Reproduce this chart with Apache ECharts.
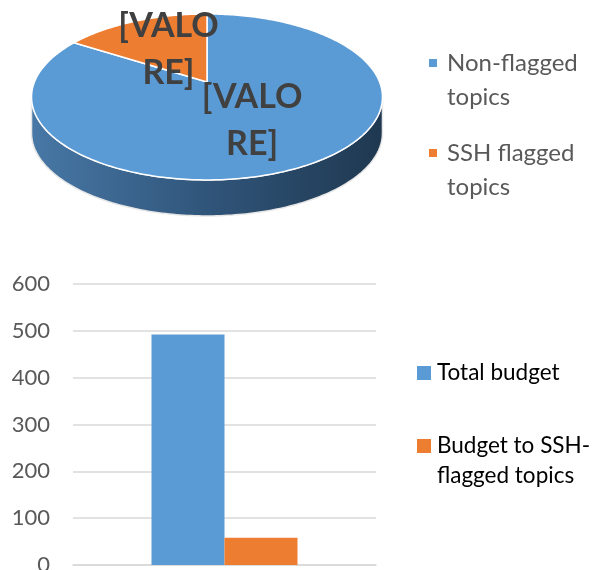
<!DOCTYPE html>
<html>
<head>
<meta charset="utf-8">
<script src="https://cdn.jsdelivr.net/npm/echarts@6/dist/echarts.min.js"></script>
<style>
  html, body { margin: 0; padding: 0; background: #fff; }
  #chart { width: 594px; height: 570px; }
</style>
</head>
<body>
<div id="chart"></div>
<script>
// dati torta
var pieNames = ['Non-flagged\ntopics', 'SSH flagged\ntopics'];
var pieValues = [84, 16];
var pieLabels = ['[VALO\nRE]', '[VALO\nRE]'];
var pieColors = ['#5b9bd5', '#ed7d31'];

// dati barre
var barNames = ['Total budget', 'Budget to SSH-\nflagged topics'];
var barValues = [492, 58];
var barColors = ['#5b9bd5', '#ed7d31'];
var yMin = 0, yMax = 600, yStep = 100;

var fontName = 'Lato, "Open Sans", sans-serif';

// geometria torta 3d (prospettiva semplice)
var cx = 207, cy = 82, ra = 172.6, rb = 80.3, persp = 0.18, depth = 36;
var sideL = Math.acos(-persp) * 180 / Math.PI;   // ~100 gradi
var sideR = 360 - sideL;

function project(r, deg) {
    var t = deg * Math.PI / 180;
    var d = 1 + persp * r * Math.cos(t);
    return [cx + ra * r * Math.sin(t) / d, cy - rb * r * Math.cos(t) / d];
}

function pieTotal() {
    var s = 0;
    for (var i = 0; i < pieValues.length; i++) s += pieValues[i];
    return s;
}

function sliceStart(idx) {
    var s = 0;
    for (var i = 0; i < idx; i++) s += pieValues[i];
    return s / pieTotal() * 360;
}

function arc(r, a0, a1, dy) {
    var pts = [];
    for (var a = a0; a < a1; a += 1) {
        var p = project(r, a);
        pts.push([p[0], p[1] + dy]);
    }
    var q = project(r, a1);
    pts.push([q[0], q[1] + dy]);
    return pts;
}

function renderSlice(idx) {
    return function (params, api) {
        var start = sliceStart(idx);
        var end = start + api.value(0) / pieTotal() * 360;
        var children = [];
        // parete laterale
        var w0 = Math.max(start, sideL), w1 = Math.min(end, sideR);
        if (w1 > w0) {
            var topEdge = arc(1, w0, w1, 0);
            var botEdge = arc(1, w0, w1, depth).reverse();
            children.push({
                type: 'polygon',
                shape: { points: topEdge.concat(botEdge) },
                style: {
                    fill: new echarts.graphic.LinearGradient(0, 0, 1, 0, [
                        { offset: 0, color: '#4878a6' },
                        { offset: 0.5, color: '#30557a' },
                        { offset: 1, color: '#1f3850' }
                    ]),
                    stroke: '#e6e6e6',
                    lineWidth: 1.5
                }
            });
        }
        // faccia superiore
        var face = [[cx, cy]].concat(arc(1, start, end, 0));
        children.push({
            type: 'polygon',
            shape: { points: face },
            style: { fill: pieColors[idx], stroke: '#ffffff', lineWidth: 1.5 }
        });
        var mid = (start + end) / 2;
        var lp = project(0.5, mid);
        children.push({
            type: 'text',
            x: lp[0],
            y: lp[1],
            z2: 100,
            style: {
                text: pieLabels[idx],
                fill: '#404040',
                fontSize: 34,
                fontWeight: 'bold',
                fontFamily: fontName,
                lineHeight: 47,
                align: 'center',
                verticalAlign: 'middle'
            }
        });
        return { type: 'group', children: children };
    };
}

var series = [];
for (var i = 0; i < pieValues.length; i++) {
    series.push({
        type: 'custom',
        name: pieNames[i],
        coordinateSystem: 'none',
        itemStyle: { color: pieColors[i] },
        renderItem: renderSlice(i),
        data: [[pieValues[i]]],
        silent: true
    });
}
for (var j = 0; j < barValues.length; j++) {
    series.push({
        type: 'bar',
        name: barNames[j],
        data: [barValues[j]],
        barWidth: 73,
        barGap: '0%',
        itemStyle: { color: barColors[j] }
    });
}

// riga vuota in testa: l'icona resta allineata alla prima riga
function firstLine(name) {
    return name.indexOf('\n') >= 0 ? '\n' + name : name;
}

var pieLegendTop = [12, 102];
var barLegendTop = [358, 401];
var legends = [];
for (var a = 0; a < pieNames.length; a++) {
    legends.push({
        data: [pieNames[a]],
        left: 429, top: pieLegendTop[a], padding: 0,
        icon: 'rect', itemWidth: 8, itemHeight: 8,
        selectedMode: false,
        formatter: firstLine,
        textStyle: { fontSize: 24, color: '#595959', fontFamily: fontName, lineHeight: 34, padding: [0, 0, 0, 5] }
    });
}
for (var b = 0; b < barNames.length; b++) {
    legends.push({
        data: [barNames[b]],
        left: 417, top: barLegendTop[b], padding: 0,
        icon: 'rect', itemWidth: 14, itemHeight: 14,
        selectedMode: false,
        formatter: firstLine,
        textStyle: { fontSize: 22.5, color: '#000000', fontFamily: fontName, lineHeight: 30, padding: [0, 0, 0, 1] }
    });
}

var chart = echarts.init(document.getElementById('chart'));
chart.setOption({
    animation: false,
    legend: legends,
    grid: { left: 73, right: 218, top: 284, bottom: 5, outerBoundsMode: 'none', containLabel: false },
    xAxis: {
        type: 'category',
        data: [''],
        axisLine: { lineStyle: { color: '#d9d9d9', width: 1.5 } },
        axisTick: { show: false },
        axisLabel: { show: false }
    },
    yAxis: {
        type: 'value',
        min: yMin, max: yMax, interval: yStep,
        axisLine: { show: false },
        axisTick: { show: false },
        axisLabel: { fontSize: 22, color: '#595959', fontFamily: fontName, margin: 23 },
        splitLine: { lineStyle: { color: '#d9d9d9', width: 1.5 } }
    },
    series: series
});
</script>
</body>
</html>
